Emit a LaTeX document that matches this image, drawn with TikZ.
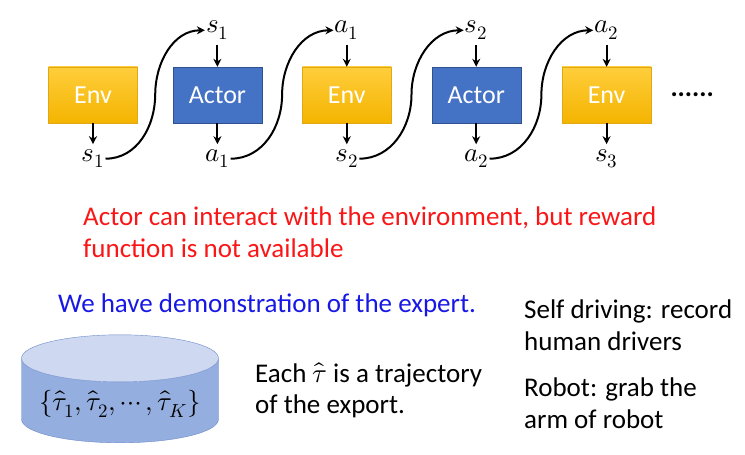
\documentclass[tikz,border=0pt]{standalone}
\usepackage{fontspec}
\usepackage{unicode-math}
\setmainfont{Carlito}
\setmathfont{Latin Modern Math}
\usetikzlibrary{arrows.meta,positioning,calc,shapes.geometric}
\definecolor{envtop}{RGB}{255,206,60}
\definecolor{envbot}{RGB}{244,180,0}
\definecolor{envline}{RGB}{226,168,20}
\definecolor{actfill}{RGB}{68,114,196}
\definecolor{actline}{RGB}{47,82,143}
\definecolor{warn}{RGB}{250,22,22}
\definecolor{demo}{RGB}{24,24,228}
\definecolor{dbbody}{RGB}{148,174,224}
\definecolor{dbtop}{RGB}{206,216,240}
\definecolor{dbline}{RGB}{108,138,200}
\tikzset{
  box/.style={minimum width=89pt,minimum height=56pt,text=white,
    font=\fontsize{26}{30}\selectfont},
  envbox/.style={box,draw=envline,top color=envtop,bottom color=envbot},
  actbox/.style={box,draw=actline,fill=actfill},
  lbl/.style={inner xsep=1pt,inner ysep=5pt,font=\fontsize{27}{30}\selectfont},
  arr/.style={-{Stealth[length=8pt,width=8pt]},line width=2pt,draw=black},
  txt/.style={align=left,inner sep=0pt,font=\fontsize{27}{31.5}\selectfont}
}
\newcommand{\trj}[1]{\hat{\tau}_{#1}}

\begin{document}
\begin{tikzpicture}[x=1pt,y=1pt,node distance=38pt]
 \useasboundingbox (0,0) rectangle (745,455);
 % interaction chain
 \node[envbox] (e1) at (93,360) {Env};
 \node[actbox,right=35pt of e1] (c1) {Actor};
 \node[envbox,right=40pt of c1] (e2) {Env};
 \node[actbox,right=40pt of e2] (c2) {Actor};
 \node[envbox,right=41pt of c2] (e3) {Env};
 \node[lbl,right=18pt of e3] (more) {\textbf{......}};
 \node[lbl,below=21pt of e1] (s1b) {$s_1$};
 \node[lbl,below=21pt of c1] (a1b) {$a_1$};
 \node[lbl,below=21pt of e2] (s2b) {$s_2$};
 \node[lbl,below=21pt of c2] (a2b) {$a_2$};
 \node[lbl,below=21pt of e3] (s3b) {$s_3$};
 \node[lbl,above=22pt of c1] (s1t) {$s_1$};
 \node[lbl,above=22pt of e2] (a1t) {$a_1$};
 \node[lbl,above=22pt of c2] (s2t) {$s_2$};
 \node[lbl,above=22pt of e3] (a2t) {$a_2$};
 \foreach \b/\l in {e1/s1b,c1/a1b,e2/s2b,c2/a2b,e3/s3b} \draw[arr] (\b.south) -- (\l.north);
 \foreach \l/\b in {s1t/c1,a1t/e2,s2t/c2,a2t/e3} \draw[arr] (\l.south) -- (\b.north);
 \foreach \f/\t in {s1b/s1t,a1b/a1t,s2b/s2t,a2b/a2t}
   \draw[arr] (\f.east) to[out=0,in=-90] ($(\f.east)!0.5!(\t.west)$) to[out=90,in=180] (\t.west);
 % notes
 \node[txt,text=warn,anchor=north west] (warnnote) at (83,248)
   {Actor can interact with the environment, but reward\\function is not available};
 \node[txt,text=demo,anchor=north west] (demonote) at (58,161) {We have demonstration of the expert.};
 \node[cylinder,shape border rotate=90,aspect=0.28,minimum width=197pt,minimum height=108pt,
   draw=dbline,cylinder uses custom fill,cylinder body fill=dbbody,cylinder end fill=dbtop,
   font=\fontsize{27}{30}\selectfont,anchor=south] (db) at (120,12) {$\{\trj{1},\trj{2},\cdots,\trj{K}\}$};
 \node[txt,anchor=north west] (eachnote) at (255,93) {Each $\hat{\tau}$ is a trajectory\\of the export.};
 \node[txt,anchor=north west] (carnote) at (524,155) {Self driving: record\\human drivers};
 \node[txt,anchor=north west] (robnote) at (524,77) {Robot: grab the\\arm of robot};
\end{tikzpicture}
\end{document}
